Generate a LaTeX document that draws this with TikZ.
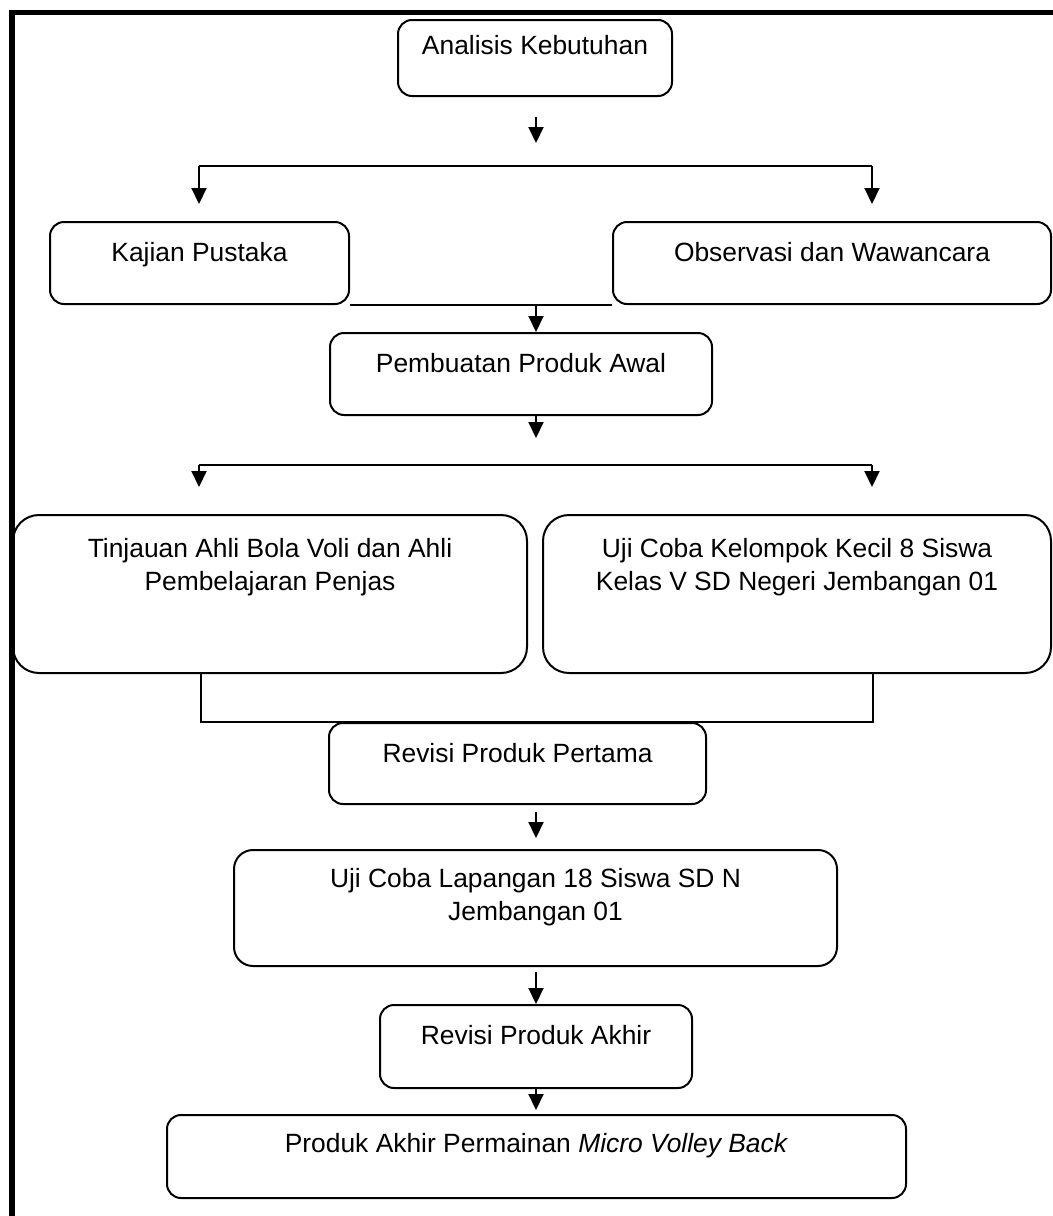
\documentclass[tikz,border=0pt]{standalone}
\usepackage{fontspec}
\setmainfont{Liberation Sans}
\usetikzlibrary{arrows.meta,fit,calc}
\begin{document}
\begin{tikzpicture}[x=0.5pt,y=-0.5pt,
  box/.style={draw,line width=1pt,inner sep=0pt,rounded corners=#1},
  box/.default=7pt,
  txt/.style={font=\fontsize{13.2pt}{16.5pt}\selectfont,inner sep=0pt,anchor=base},
  arr/.style={line width=1pt,-{Triangle[width=7.5pt,length=8pt]}},
  ln/.style={line width=1pt},
  framestyle/.style={line width=2.8pt}]
\useasboundingbox (0,0) rectangle (1053,1216);
% frame
\draw[framestyle] (12,1220) -- (12,12.5) -- (1060,12.5);
% boxes
\node[box,fit={(398,20)(672,96)}] (ak) {};
\node[box,fit={(50,222)(349,304)}] (kp) {};
\node[box,fit={(613,222)(1051,304)}] (ow) {};
\node[box,fit={(330,333)(712,415)}] (ppa) {};
\node[box=13pt,fit={(13,515)(527,673)}] (ta) {};
\node[box=13pt,fit={(543,515)(1051,673)}] (uck) {};
\node[box,fit={(329,723)(706,804)}] (rpp) {};
\node[box=9.5pt,fit={(234,850)(837,966)}] (ucl) {};
\node[box,fit={(380,1005)(692,1088)}] (rpa) {};
\node[box,fit={(167,1115)(906,1198)}] (paf) {};
% texts
\path (ak.north) ++(0,35) node[txt] {Analisis Kebutuhan};
\path (kp.north) ++(0,40) node[txt] {Kajian Pustaka};
\path (ow.north) ++(0,40) node[txt] {Observasi dan Wawancara};
\path (ppa.north) ++(0,40) node[txt] {Pembuatan Produk Awal};
\path (ta.north) ++(0,43) node[txt] {Tinjauan Ahli Bola Voli dan Ahli};
\path (ta.north) ++(0,76) node[txt] {Pembelajaran Penjas};
\path (uck.north) ++(0,43) node[txt] {Uji Coba Kelompok Kecil 8 Siswa};
\path (uck.north) ++(0,76) node[txt] {Kelas V SD Negeri Jembangan 01};
\path (rpp.north) ++(0,40) node[txt] {Revisi Produk Pertama};
\path (ucl.north) ++(0,38) node[txt] {Uji Coba Lapangan 18 Siswa SD N};
\path (ucl.north) ++(0,71) node[txt] {Jembangan 01};
\path (rpa.north) ++(0,40) node[txt] {Revisi Produk Akhir};
\path (paf.north) ++(0,38) node[txt] {Produk Akhir Permainan \textit{Micro Volley Back}};
% connector coordinates
\coordinate (a1s) at (536,117);
\coordinate (a1e) at (536,143);
\coordinate (b1l) at (199,166);
\coordinate (b1r) at (872,166);
\coordinate (b1le) at (199,204);
\coordinate (b1re) at (872,204);
\coordinate (a2s) at (536,304);
\coordinate (b2c) at (536,415);
\coordinate (a3e) at (536,438);
\coordinate (b2l) at (199,465);
\coordinate (b2r) at (872,465);
\coordinate (b2le) at (199,487);
\coordinate (b2re) at (872,487);
\coordinate (mgl) at (201,673);
\coordinate (mgr) at (873,673);
\coordinate (a4s) at (536,812);
\coordinate (a4e) at (536,838);
\coordinate (a5s) at (536,972);
\coordinate (a6s) at (536,1088);
\coordinate (a6e) at (536,1110);
% connectors
\draw[arr] (a1s) -- (a1e);
\draw[arr] (b1le |- b1l) -- (b1le);
\draw[ln] (b1l) -- (b1r);
\draw[arr] (b1r) -- (b1re);
\draw[ln] (kp.south east) -- (ow.south west);
\draw[arr] (a2s) -- (a2s |- ppa.north);
\draw[arr] (b2c) -- (a3e);
\draw[ln] (b2l) -- (b2r);
\draw[arr] (b2l) -- (b2le);
\draw[arr] (b2r) -- (b2re);
\draw[ln] (mgl) -- (mgl |- rpp.north) -- (mgr |- rpp.north) -- (mgr);
\draw[arr] (a4s) -- (a4e);
\draw[arr] (a5s) -- (a5s |- rpa.north);
\draw[arr] (a6s) -- (a6e);
\end{tikzpicture}
\end{document}
